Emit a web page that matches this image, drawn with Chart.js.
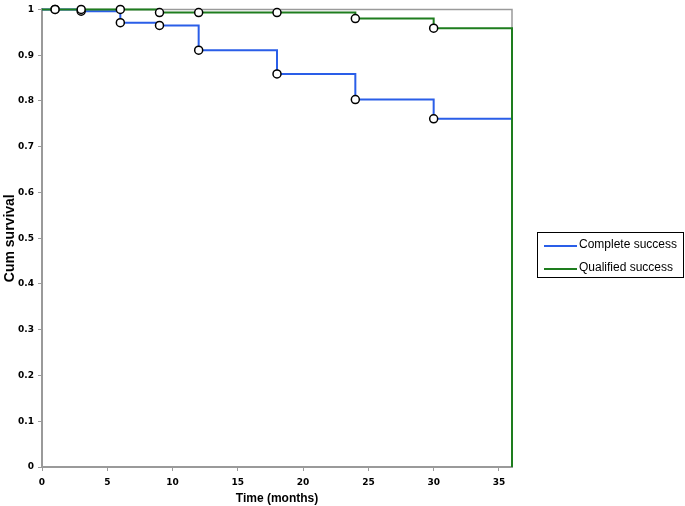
<!DOCTYPE html>
<html>
<head>
<meta charset="utf-8">
<script src="https://cdn.jsdelivr.net/npm/chart.js@4.4.1/dist/chart.umd.min.js"></script>
<style>
  html, body { margin: 0; padding: 0; background: #fff; }
  #wrap { position: relative; width: 685px; height: 506px; }
  #legend {
    position: absolute; left: 537px; top: 232px; width: 147px; height: 46px;
    border: 1px solid #000; box-sizing: border-box;
    font: 12px "Liberation Sans", Arial, sans-serif; color: #000;
  }
  #legend div { position: absolute; left: 41px; white-space: nowrap; }
  #legend span { position: absolute; left: 6px; width: 33px; height: 0; }
</style>
</head>
<body>
<div id="wrap">
  <canvas id="chart" width="685" height="506"></canvas>
  <div id="legend">
    <span style="top:12px;border-top:2px solid #2a5ee8"></span><div style="top:4px">Complete success</div>
    <span style="top:35px;border-top:2px solid #1e7d1e"></span><div style="top:27px">Qualified success</div>
  </div>
</div>
<script>
// Kaplan-Meier style curves
const months = [0, 1, 3, 6, 9, 12, 18, 24, 30, 36];
const completeSuccess = [1, 1, 0.996, 0.971, 0.965, 0.911, 0.859, 0.803, 0.761, 0.761];
const qualifiedSuccess = [1, 1, 1, 1, 0.993, 0.993, 0.993, 0.980, 0.959, 0.959];
const censorMonths = [1, 3, 6, 9, 12, 18, 24, 30];
const completeEnd = 0.748;
const qualifiedEnd = 0;
const xTicks = [0, 5, 10, 15, 20, 25, 30, 35];

const blue = '#2a5ee8';
const green = '#1e7d1e';

function toPoints(vals, endVal) {
  const pts = months.map((m, i) => ({ x: m, y: vals[i] }));
  pts.push({ x: months[months.length - 1], y: endVal });
  return pts;
}

function markRadius(ctx) {
  const last = ctx.dataIndex >= months.length;
  return !last && censorMonths.includes(ctx.raw.x) ? 4 : 0;
}

// gray frame on top and right of the plot
const framePlugin = {
  id: 'frame',
  beforeDatasetsDraw(chart) {
    const { ctx, chartArea: a } = chart;
    ctx.save();
    ctx.strokeStyle = '#9a9a9a';
    ctx.lineWidth = 1.5;
    ctx.beginPath();
    ctx.moveTo(a.left, a.top);
    ctx.lineTo(a.right, a.top);
    ctx.lineTo(a.right, a.bottom);
    ctx.stroke();
    ctx.restore();
  }
};

const tickFont = { family: '"DejaVu Sans", Verdana, sans-serif', size: 9, weight: 'bold' };

new Chart(document.getElementById('chart'), {
  type: 'line',
  data: {
    datasets: [
      {
        label: 'Qualified success',
        data: toPoints(qualifiedSuccess, qualifiedEnd),
        borderColor: green,
        borderWidth: 2,
        stepped: true,
        clip: false,
        pointRadius: markRadius,
        pointBackgroundColor: '#fff',
        pointBorderColor: '#000',
        pointBorderWidth: 1.5
      },
      {
        label: 'Complete success',
        data: toPoints(completeSuccess, completeEnd),
        borderColor: blue,
        borderWidth: 2,
        stepped: true,
        clip: false,
        pointRadius: markRadius,
        pointBackgroundColor: '#fff',
        pointBorderColor: '#000',
        pointBorderWidth: 1.5
      }
    ]
  },
  options: {
    responsive: false,
    animation: false,
    layout: { padding: { top: 4, right: 173, bottom: 0, left: 0 } },
    plugins: {
      legend: { display: false },
      tooltip: { enabled: false }
    },
    scales: {
      x: {
        type: 'linear',
        min: 0,
        max: 36,
        afterBuildTicks(scale) { scale.ticks = xTicks.map(v => ({ value: v })); },
        ticks: { color: '#000', font: tickFont, padding: 6, maxRotation: 0 },
        grid: { drawOnChartArea: false, tickLength: 4, color: '#9a9a9a' },
        border: { color: '#9a9a9a', width: 2 },
        title: {
          display: true,
          text: 'Time (months)',
          color: '#000',
          font: { family: '"Liberation Sans", Arial, sans-serif', size: 12, weight: 'bold' },
          padding: { top: 2, bottom: 0 }
        },
        afterFit(scale) { scale.height = 39; }
      },
      y: {
        min: 0,
        max: 1,
        ticks: {
          stepSize: 0.1,
          color: '#000',
          font: tickFont,
          padding: 4,
          callback: v => String(Number(v.toFixed(1)))
        },
        grid: { drawOnChartArea: false, tickLength: 4, color: '#9a9a9a' },
        border: { color: '#9a9a9a', width: 2 },
        title: {
          display: true,
          text: 'Cum survival',
          color: '#000',
          font: { family: '"Liberation Sans", Arial, sans-serif', size: 14, weight: 'bold' },
          padding: { top: 2, bottom: 0 }
        },
        afterFit(scale) { scale.width = 42; }
      }
    }
  },
  plugins: [framePlugin]
});
</script>
</body>
</html>
